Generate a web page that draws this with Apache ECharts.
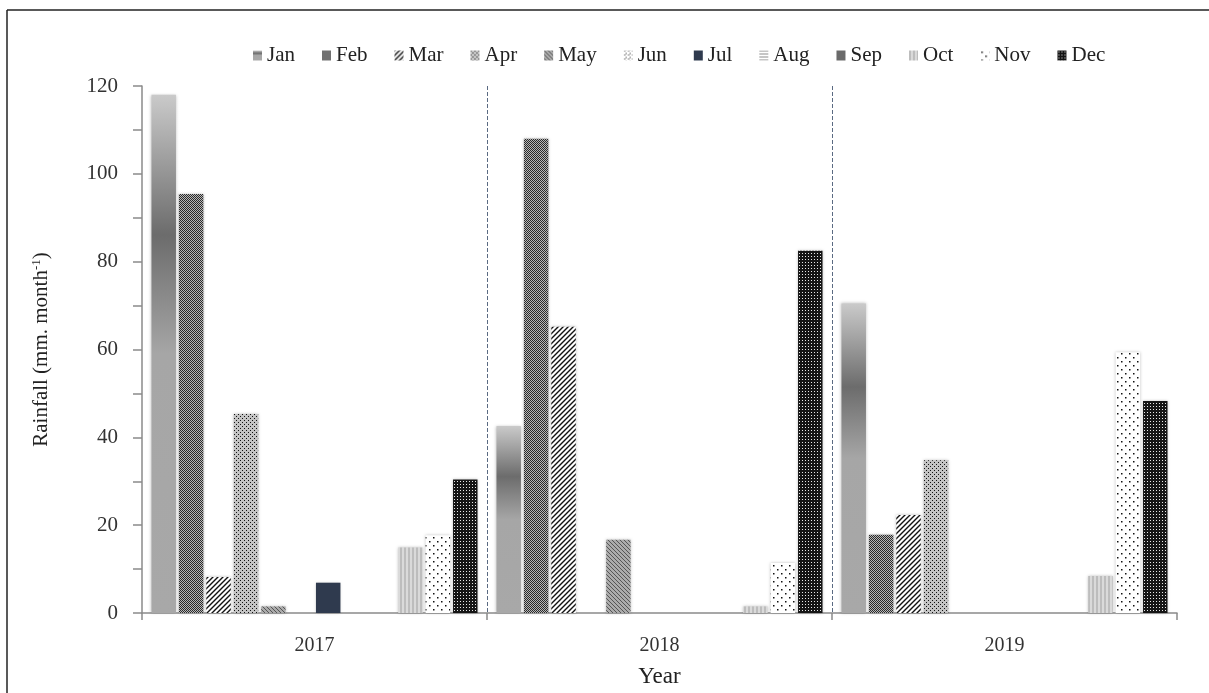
<!DOCTYPE html>
<html>
<head>
<meta charset="utf-8">
<script src="https://cdn.jsdelivr.net/npm/echarts@6/dist/echarts.min.js"></script>
<style>html,body{margin:0;padding:0;background:#fff;}#c{width:1209px;height:693px;}</style>
</head>
<body>
<div id="c"></div>
<script>
const years = ['2017', '2018', '2019'];
const months = ['Jan','Feb','Mar','Apr','May','Jun','Jul','Aug','Sep','Oct','Nov','Dec'];
const rain2017 = [118, 95.4, 8.2, 45.3, 1.5, 0, 6.9, 0, 0, 14.9, 17.7, 30.4];
const rain2018 = [42.6, 108, 65.2, 0, 16.7, 0, 0, 0, 0, 1.5, 11.4, 82.5];
const rain2019 = [70.5, 17.8, 22.3, 34.8, 0, 0, 0, 0, 0, 8.4, 59.4, 48.3];
const yTicks = [0, 20, 40, 60, 80, 100, 120];

function pat(w, h, draw) {
  const c = document.createElement('canvas');
  c.width = w; c.height = h;
  const g = c.getContext('2d');
  draw(g, w, h);
  return { image: c, repeat: 'repeat' };
}
const fills = [
  { type: 'linear', x: 0, y: 0, x2: 0, y2: 1, colorStops: [
    { offset: 0, color: '#cacaca' }, { offset: 0.27, color: '#6c6c6c' },
    { offset: 0.5, color: '#a6a6a6' }, { offset: 1, color: '#a8a8a8' }] },
  pat(2, 2, (g) => { g.fillStyle = '#b8b8b8'; g.fillRect(0,0,2,2); g.fillStyle = '#2a2a2a'; g.fillRect(0,0,1,1); g.fillRect(1,1,1,1); }),
  pat(5, 5, (g) => { g.fillStyle = '#fff'; g.fillRect(0,0,5,5); g.strokeStyle = '#111'; g.lineWidth = 1.4;
    g.beginPath(); g.moveTo(0,5); g.lineTo(5,0); g.moveTo(-1,1); g.lineTo(1,-1); g.moveTo(4,6); g.lineTo(6,4); g.stroke(); }),
  pat(4, 4, (g) => { g.fillStyle = '#c4c4c4'; g.fillRect(0,0,4,4); g.fillStyle = '#111'; g.fillRect(0,0,1,1); g.fillRect(2,2,1,1); }),
  pat(4, 4, (g) => { g.fillStyle = '#ababab'; g.fillRect(0,0,4,4); g.strokeStyle = '#555'; g.lineWidth = 1;
    g.beginPath(); g.moveTo(0,0); g.lineTo(4,4); g.moveTo(3,-1); g.lineTo(5,1); g.moveTo(-1,3); g.lineTo(1,5); g.stroke(); }),
  pat(4, 4, (g) => { g.fillStyle = '#fff'; g.fillRect(0,0,4,4); g.fillStyle = '#888'; g.fillRect(0,0,2,1); g.fillRect(2,2,1,2); }),
  '#2f3a4e',
  pat(1, 3, (g) => { g.fillStyle = '#fff'; g.fillRect(0,0,1,3); g.fillStyle = '#8c8c8c'; g.fillRect(0,0,1,1); }),
  '#6a6a6a',
  pat(4, 1, (g) => { g.fillStyle = '#bdbdbd'; g.fillRect(0,0,4,1); g.fillStyle = '#dadada'; g.fillRect(2,0,2,1); }),
  pat(8, 8, (g) => { g.fillStyle = '#fff'; g.fillRect(0,0,8,8); g.fillStyle = '#111'; g.fillRect(1,1,1.5,1.5); g.fillRect(5,5,1.5,1.5); }),
  pat(3, 3, (g) => { g.fillStyle = '#151515'; g.fillRect(0,0,3,3); g.fillStyle = '#e8e8e8'; g.fillRect(1,1,1,1); })
];

const allYears = [rain2017, rain2018, rain2019];
const series = months.map((m, i) => ({
  name: m,
  type: 'bar',
  barGap: '12%',
  barCategoryGap: '5.5%',
  data: allYears.map(y => y[i]),
  itemStyle: { color: fills[i], shadowBlur: 3, shadowColor: 'rgba(0,0,0,0.25)' },
  emphasis: { disabled: true }
}));

const serif = '"Liberation Serif", "DejaVu Serif", serif';
const chart = echarts.init(document.getElementById('c'), null, { renderer: 'canvas' });
chart.setOption({
  animation: false,
  backgroundColor: '#fff',
  textStyle: { fontFamily: serif },
  graphic: [
    { type: 'line', shape: { x1: 7, y1: 10, x2: 1209, y2: 10 }, style: { stroke: '#222', lineWidth: 1.5 } },
    { type: 'line', shape: { x1: 7, y1: 10, x2: 7, y2: 693 }, style: { stroke: '#222', lineWidth: 1.5 } }
  ],
  legend: {
    data: months,
    top: 40,
    left: 248,
    icon: 'rect',
    itemWidth: 9,
    itemHeight: 10,
    itemGap: 27,
    textStyle: { fontFamily: serif, fontSize: 21, color: '#222' }
  },
  grid: { left: 142, right: 32, top: 86, bottom: 80, containLabel: false },
  xAxis: {
    type: 'category',
    data: years,
    name: 'Year',
    nameLocation: 'middle',
    nameGap: 52,
    nameTextStyle: { fontFamily: serif, fontSize: 23, color: '#222' },
    axisLine: { lineStyle: { color: '#8a8a8a', width: 1.5 } },
    axisTick: { show: true, length: 7, lineStyle: { color: '#8a8a8a', width: 1.5 } },
    axisLabel: { fontFamily: serif, fontSize: 20, color: '#333', margin: 23 },
    splitLine: { show: true, showMinLine: false, showMaxLine: false, lineStyle: { color: '#5a6a82', type: 'dashed', width: 1 } }
  },
  yAxis: {
    type: 'value',
    min: yTicks[0],
    max: yTicks[yTicks.length - 1],
    interval: 20,
    name: 'Rainfall (mm. month{sup|-1})',
    nameLocation: 'middle',
    nameGap: 90,
    nameTextStyle: { fontFamily: serif, fontSize: 21, color: '#222',
      rich: { sup: { fontFamily: serif, fontSize: 13, color: '#222', verticalAlign: 'top', padding: [0, 0, 9, 0] } } },
    axisLine: { show: true, lineStyle: { color: '#8a8a8a', width: 1.5 } },
    axisTick: { show: true, length: 9, lineStyle: { color: '#8a8a8a', width: 1.5 } },
    minorTick: { show: true, splitNumber: 2, length: 9, lineStyle: { color: '#8a8a8a', width: 1.5 } },
    axisLabel: { fontFamily: serif, fontSize: 21, color: '#333', margin: 24 },
    splitLine: { show: false }
  },
  series: series
});
</script>
</body>
</html>
